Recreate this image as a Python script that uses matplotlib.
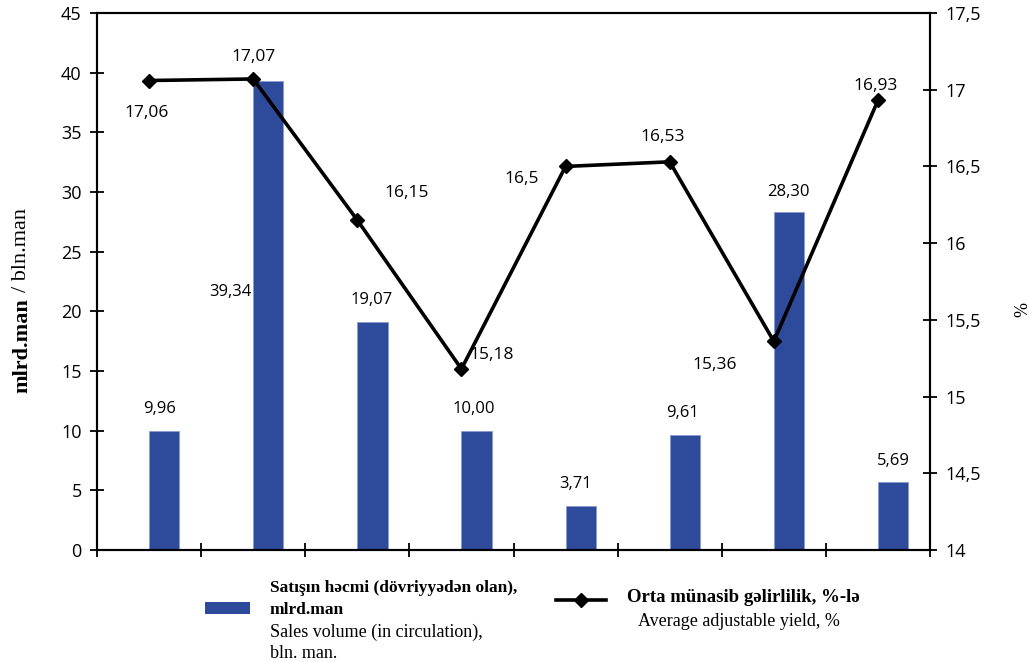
import matplotlib
matplotlib.use("Agg")
import matplotlib.pyplot as plt
from matplotlib.lines import Line2D
from matplotlib.patches import Rectangle
from matplotlib.ticker import FixedLocator, NullFormatter, FuncFormatter

# ---- data ----
sales_volume = [9.96, 39.34, 19.07, 10.00, 3.71, 9.61, 28.30, 5.69]
sales_labels = ["9,96", "39,34", "19,07", "10,00", "3,71", "9,61", "28,30", "5,69"]
avg_yield = [17.06, 17.07, 16.15, 15.18, 16.5, 16.53, 15.36, 16.93]
yield_labels = ["17,06", "17,07", "16,15", "15,18", "16,5", "16,53", "15,36", "16,93"]
left_ticks = [0, 5, 10, 15, 20, 25, 30, 35, 40, 45]
right_ticks = [14, 14.5, 15, 15.5, 16, 16.5, 17, 17.5]

# label offsets (pixels)
yield_offsets = [(-2, -32), (0, 22), (49, 27), (30, 14), (-44, -13), (-7, 25), (-59, -24), (-2, 14)]
sales_offsets = [(-5, 22), (-38, -211), (-1, 22), (-3, 22), (-5, 22), (-2, 22), (-1, 20), (0, 21)]

BAR = "#2E4A9A"
tick_font = "Open Sans"
serif = "Liberation Serif"

fig = plt.figure(figsize=(10.29, 6.62), dpi=100)
ax = fig.add_axes([97/1029, 1-550/662, (930-97)/1029, (550-13)/662])
ax2 = ax.twinx()

n = len(sales_volume)
x = list(range(n))
bw = 0.29
bx = [xi + bw/2 for xi in x]
ax.bar(bx, sales_volume, width=bw, color=BAR, edgecolor="#8C9BD0", linewidth=0.6, zorder=2)
ax.set_xlim(-0.5, n - 0.5)
ax.set_ylim(0, 45)
ax.yaxis.set_major_locator(FixedLocator(left_ticks))
ax.xaxis.set_major_locator(FixedLocator([i - 0.5 for i in range(n + 1)]))
ax.xaxis.set_major_formatter(NullFormatter())
ax.tick_params(axis="x", direction="inout", length=10, width=1.3)
ax.tick_params(axis="y", direction="inout", length=10, width=1.3, labelsize=13, pad=6)
for lab in ax.get_yticklabels():
    lab.set_fontfamily(tick_font)
for s in ax.spines.values():
    s.set_linewidth(1.5)

for xi, v, lab, (dx, dy) in zip(bx, sales_volume, sales_labels, sales_offsets):
    ax.annotate(lab, (xi, v), xytext=(dx, dy), textcoords="offset pixels",
                ha="center", va="center", fontsize=12, family=tick_font)

ax2.plot(x, avg_yield, color="black", lw=2.6, marker="D", markersize=7, zorder=3)
ax2.set_ylim(14, 17.5)
ax2.yaxis.set_major_locator(FixedLocator(right_ticks))
ax2.yaxis.set_major_formatter(FuncFormatter(lambda v, p: (f"{v:g}").replace(".", ",")))
ax2.tick_params(axis="y", direction="inout", length=10, width=1.3, labelsize=13, pad=6)
for lab in ax2.get_yticklabels():
    lab.set_fontfamily(tick_font)
for s in ax2.spines.values():
    s.set_linewidth(1.5)

for xi, v, lab, (dx, dy) in zip(x, avg_yield, yield_labels, yield_offsets):
    ax2.annotate(lab, (xi, v), xytext=(dx, dy), textcoords="offset pixels",
                 ha="center", va="center", fontsize=12.5, family=tick_font)

# axis titles
renderer = fig.canvas.get_renderer()
t1 = fig.text(22/1029, 1-393/662, "mlrd.man", rotation=90, ha="center", va="bottom",
              fontsize=16, fontweight="bold", family=serif)
ext = t1.get_window_extent(renderer)
fig.text(22/1029, (ext.y1 + 6)/662, "/ bln.man", rotation=90, ha="center", va="bottom",
         fontsize=16, family=serif)
fig.text(1017/1029, 1-310/662, "%", rotation=270, ha="center", va="center",
         fontsize=13, family=serif)

# legend
fig.patches.append(Rectangle((205/1029, 1-614/662), 45/1029, 12/662,
                             transform=fig.transFigure, facecolor=BAR, edgecolor="none"))
fig.text(270/1029, 1-588/662, "Satışın həcmi (dövriyyədən olan),", ha="left", va="center",
         fontsize=12.5, fontweight="bold", family=serif)
fig.text(270/1029, 1-610/662, "mlrd.man", ha="left", va="center",
         fontsize=12.5, fontweight="bold", family=serif)
fig.text(270/1029, 1-632/662, "Sales volume (in circulation),", ha="left", va="center",
         fontsize=13, family=serif)
fig.text(270/1029, 1-653/662, "bln. man.", ha="left", va="center",
         fontsize=13, family=serif)

fig.lines.append(Line2D([556/1029, 606/1029], [1-600/662, 1-600/662], transform=fig.transFigure,
                        color="black", lw=2.6))
fig.lines.append(Line2D([581/1029], [1-600/662], transform=fig.transFigure,
                        color="black", lw=0, marker="D", markersize=7))
fig.text(627/1029, 1-598/662, "Orta münasib gəlirlilik, %-lə", ha="left", va="center",
         fontsize=13.5, fontweight="bold", family=serif)
fig.text(638/1029, 1-621/662, "Average adjustable yield, %", ha="left", va="center",
         fontsize=13, family=serif)

fig.savefig("out.png", dpi=100)
